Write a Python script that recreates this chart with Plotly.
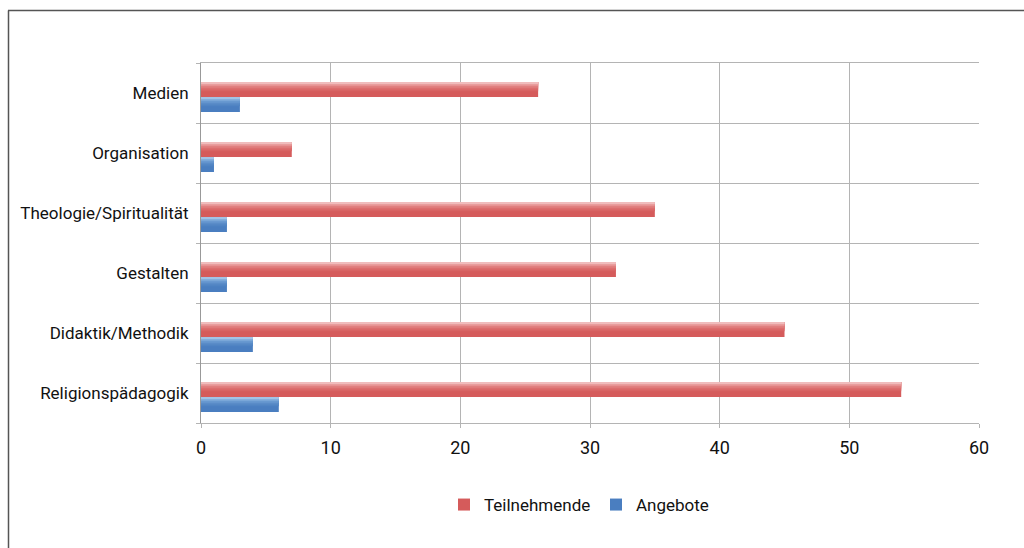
import plotly.graph_objects as go

categories = ["Medien", "Organisation", "Theologie/Spiritualität", "Gestalten",
              "Didaktik/Methodik", "Religionspädagogik"]
teilnehmende = [26, 7, 35, 32, 45, 54]
angebote = [3, 1, 2, 2, 4, 6]
series_names = ["Teilnehmende", "Angebote"]
x_ticks = [0, 10, 20, 30, 40, 50, 60]

W, H = 1024, 548
ML, MR, MT, MB = 201, 45, 63, 125
pw, ph = W - ML - MR, H - MT - MB

FONT = "Roboto, Liberation Sans, sans-serif"
BW = 0.25
red_layers = ["#d55b5b", "#d86363", "#dc6e6e", "#e17f7f", "#e69393", "#eba8a8", "#f0bcbc"]
blue_layers = ["#4a7ec0", "#5084c3", "#5a8cc8", "#6899d0", "#7aa7d8", "#8eb5df", "#a3c3e6"]
fracs = [1.0, 0.62, 0.5, 0.38, 0.27, 0.17, 0.08]

fig = go.Figure()
specs = [(teilnehmende, series_names[0], red_layers, -0.067),
         (angebote, series_names[1], blue_layers, -0.317)]
for vals, name, cols, off in specs:
    fig.add_trace(go.Bar(y=categories, x=vals, orientation="h", name=name,
                         marker=dict(color=cols[0], line=dict(width=0)),
                         width=BW, offset=off, showlegend=True))
for vals, name, cols, off in specs:
    for f, c in zip(fracs[1:], cols[1:]):
        fig.add_trace(go.Bar(y=categories, x=vals, orientation="h", name=name,
                             marker=dict(color=c, line=dict(width=0)),
                             width=BW * f, offset=off + BW * (1 - f),
                             showlegend=False, hoverinfo="skip"))

grid = "#b4b4b4"
fig.update_layout(
    width=W, height=H,
    margin=dict(l=ML, r=MR, t=MT, b=MB, pad=0, autoexpand=False),
    paper_bgcolor="white", plot_bgcolor="white",
    barmode="overlay",
    font=dict(family=FONT, size=17, color="#111111"),
    xaxis=dict(range=[0, 60], tickvals=x_ticks, ticktext=[str(v) for v in x_ticks],
               showgrid=True, gridcolor=grid, gridwidth=1,
               ticks="outside", ticklen=4, tickcolor=grid,
               showline=True, linecolor=grid, mirror=True, zeroline=False,
               tickfont=dict(size=18), ticklabelstandoff=4, automargin=False),
    yaxis=dict(categoryorder="array", categoryarray=list(reversed(categories)),
               range=[-0.5, 5.5], tickson="boundaries", ticks="outside", ticklen=4,
               tickcolor=grid, showgrid=True, gridcolor=grid, gridwidth=1,
               showline=True, linecolor="#999999", mirror=False,
               ticklabelstandoff=8, tickfont=dict(size=17), automargin=False),
    legend=dict(orientation="h", x=(444 - ML) / pw, xanchor="left",
                y=(H - MB - 505) / ph, yanchor="middle",
                font=dict(size=17), traceorder="normal",
                itemwidth=30, entrywidth=107, entrywidthmode="pixels",
                bgcolor="rgba(0,0,0,0)"),
    shapes=[
        dict(type="line", xref="paper", yref="paper",
             x0=(8.5 - ML) / pw, x1=(8.5 - ML) / pw,
             y0=(H - MB - 10.5) / ph, y1=(H - MB - 548) / ph,
             line=dict(color="#555555", width=1.5)),
        dict(type="line", xref="paper", yref="paper",
             x0=(8 - ML) / pw, x1=(1024 - ML) / pw,
             y0=(H - MB - 10.5) / ph, y1=(H - MB - 10.5) / ph,
             line=dict(color="#555555", width=1.5)),
    ],
)
fig.write_html("out.html")
